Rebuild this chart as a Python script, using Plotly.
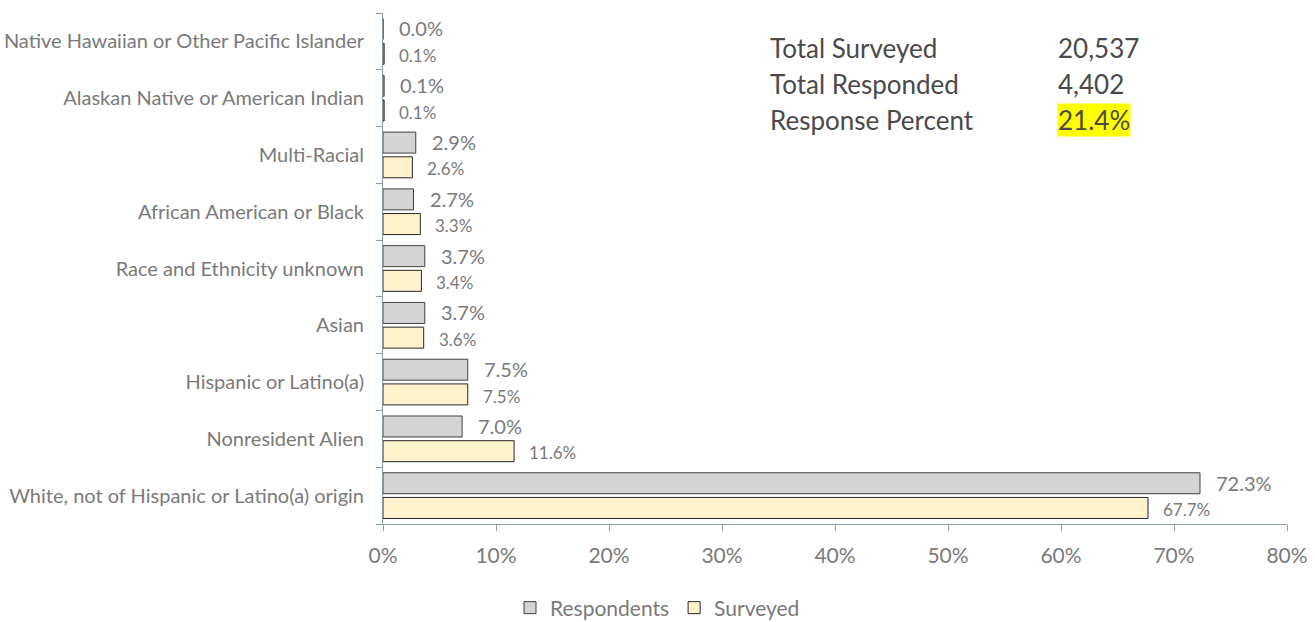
import plotly.graph_objects as go

# Race / ethnicity categories, bottom to top
categories = [
    "White, not of Hispanic or Latino(a) origin",
    "Nonresident Alien",
    "Hispanic or Latino(a)",
    "Asian",
    "Race and Ethnicity unknown",
    "African American or Black",
    "Multi-Racial",
    "Alaskan Native or American Indian",
    "Native Hawaiian or Other Pacific Islander",
]
respondents = [72.3, 7.0, 7.5, 3.7, 3.7, 2.7, 2.9, 0.1, 0.0]
surveyed = [67.7, 11.6, 7.5, 3.6, 3.4, 3.3, 2.6, 0.1, 0.1]

x_ticks = [0, 10, 20, 30, 40, 50, 60, 70, 80]
x_tick_labels = [f"{t}%" for t in x_ticks]

summary_labels = ["Total Surveyed", "Total Responded", "Response Percent"]
summary_values = ["20,537", "4,402", "21.4%"]

FONT = "Lato"
TEXT_GREY = "#7a7a7a"
AXIS_COLOR = "#8c9bb0"

W, H = 1315, 622
M_L, M_R, M_T, M_B = 383, 28, 13, 98

fig = go.Figure()

fig.add_trace(go.Bar(
    name="Surveyed",
    y=categories,
    x=surveyed,
    orientation="h",
    marker=dict(color="#FFF2CC", line=dict(color="#262626", width=1)),
    legendrank=2,
))
fig.add_trace(go.Bar(
    name="Respondents",
    y=categories,
    x=respondents,
    orientation="h",
    marker=dict(color="#D4D4D4", line=dict(color="#404040", width=1)),
    legendrank=1,
))

# Value labels just past the end of each bar
for cat, r, s in zip(categories, respondents, surveyed):
    fig.add_annotation(
        x=r, y=cat, xref="x", yref="y", text=f"{r:.1f}%",
        showarrow=False, xanchor="left", yanchor="middle",
        xshift=14, yshift=13,
        font=dict(family=FONT, size=20, color=TEXT_GREY),
    )
    fig.add_annotation(
        x=s, y=cat, xref="x", yref="y", text=f"{s:.1f}%",
        showarrow=False, xanchor="left", yanchor="middle",
        xshift=13, yshift=-14,
        font=dict(family=FONT, size=17, color=TEXT_GREY),
    )

# Summary block in the upper right (pixel rows converted to paper coordinates)
plot_w = W - M_L - M_R
plot_h = H - M_T - M_B
row_y = [48, 84, 120]
for label, value, yy in zip(summary_labels, summary_values, row_y):
    ypaper = (H - yy - M_B) / plot_h
    fig.add_annotation(
        x=(768 - M_L) / plot_w, y=ypaper, xref="paper", yref="paper",
        text=label, showarrow=False, xanchor="left", yanchor="middle",
        font=dict(family=FONT, size=26, color="#4a4a4a"),
    )
    fig.add_annotation(
        x=(1057 - M_L) / plot_w, y=ypaper, xref="paper", yref="paper",
        text=value, showarrow=False, xanchor="left", yanchor="middle",
        font=dict(family=FONT, size=26, color="#4a4a4a"),
        bgcolor="#FFFF00" if value.endswith("%") else None,
        borderpad=0,
    )

fig.update_layout(
    width=W, height=H,
    margin=dict(l=M_L, r=M_R, t=M_T, b=M_B, autoexpand=False),
    paper_bgcolor="white", plot_bgcolor="white",
    barmode="group", bargap=0.13, bargroupgap=0.15,
    font=dict(family=FONT, color=TEXT_GREY),
    showlegend=True,
    legend=dict(
        orientation="h", x=0.5, xref="container", xanchor="center",
        y=14 / H, yref="container", yanchor="middle",
        font=dict(family=FONT, size=21, color=TEXT_GREY),
        itemwidth=30,
    ),
    xaxis=dict(
        range=[0, 80], tickvals=x_ticks, ticktext=x_tick_labels,
        showgrid=False, zeroline=False,
        showline=True, linecolor=AXIS_COLOR, linewidth=1,
        ticks="outside", ticklen=6, tickcolor=AXIS_COLOR,
        tickfont=dict(family=FONT, size=21, color=TEXT_GREY),
        ticklabelstandoff=7,
    ),
    yaxis=dict(
        showgrid=False, zeroline=False,
        showline=True, linecolor=AXIS_COLOR, linewidth=1,
        ticks="outside", tickson="boundaries", ticklen=6, tickcolor=AXIS_COLOR,
        tickfont=dict(family=FONT, size=20, color=TEXT_GREY),
        ticklabelstandoff=14,
    ),
)

fig.write_html("out.html")
